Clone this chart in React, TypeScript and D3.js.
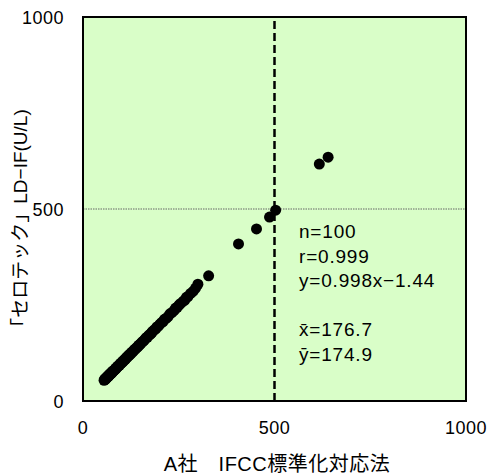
import React, { useEffect, useRef } from 'react'
import * as d3 from 'd3'

// A社 IFCC (x) vs セロテック LD-IF (y), U/L
const xVals = [
  55, 57, 58, 59, 60, 61, 62, 63, 64, 65,
  66, 67, 68, 69, 70, 71, 72, 74, 75, 76,
  77, 78, 80, 81, 83, 85, 86, 88, 90, 91,
  93, 95, 97, 99, 101, 103, 104, 106, 108, 110,
  112, 114, 116, 118, 120, 122, 125, 127, 130, 132,
  135, 137, 140, 143, 145, 148, 150, 153, 156, 159,
  162, 165, 168, 171, 174, 177, 180, 183, 186, 190,
  193, 197, 201, 205, 209, 213, 217, 222, 227, 232,
  238, 242, 246, 251, 255, 262, 266, 270, 274, 281,
  288, 294, 300, 328, 406, 453, 487, 503, 617, 640,
]
const yVals = [
  54, 57, 56, 59, 58, 61, 60, 62, 64, 63,
  66, 65, 67, 69, 68, 70, 72, 72, 75, 74,
  76, 78, 79, 80, 81, 85, 84, 87, 89, 91,
  92, 93, 97, 98, 99, 103, 102, 105, 108, 108,
  111, 114, 114, 118, 118, 122, 123, 127, 128, 131,
  135, 135, 139, 141, 145, 146, 149, 152, 155, 157,
  161, 165, 166, 170, 173, 175, 179, 182, 185, 188,
  193, 195, 200, 204, 207, 213, 215, 220, 227, 230,
  236, 242, 244, 250, 254, 260, 263, 270, 272, 280,
  286, 294, 304, 326, 409, 448, 479, 497, 617, 635,
]
const ticks = [0, 500, 1000]
const statLines = ['n=100', 'r=0.999', 'y=0.998x\u22121.44', '', 'x\u0304=176.7', 'y\u0304=174.9']
const xTitle = 'A社\u3000IFCC標準化対応法'
const yTitle = '「セロテック」LD\u2212IF(U/L)'

export default function App() {
  const ref = useRef<SVGSVGElement | null>(null)

  useEffect(() => {
    const width = 489
    const height = 476
    const margin = { top: 17, left: 83, right: 23, bottom: 75 }
    const font = '"Liberation Sans", Arial, "Noto Sans CJK JP", sans-serif'

    const svg = d3.select(ref.current).attr('width', width).attr('height', height)
    svg.selectAll('*').remove()

    const x = d3.scaleLinear().domain([0, 1000]).range([margin.left, width - margin.right])
    const y = d3.scaleLinear().domain([0, 1000]).range([height - margin.bottom, margin.top])

    // plot background
    svg.append('rect')
      .attr('x', x(0)).attr('y', y(1000))
      .attr('width', x(1000) - x(0)).attr('height', y(0) - y(1000))
      .attr('fill', '#d9fec8')

    // reference lines at 500
    svg.append('line')
      .attr('x1', x(0)).attr('x2', x(1000))
      .attr('y1', y(500)).attr('y2', y(500))
      .attr('stroke', '#666').attr('stroke-width', 1).attr('stroke-dasharray', '1.5,1')
    svg.append('line')
      .attr('x1', x(500)).attr('x2', x(500))
      .attr('y1', y(0)).attr('y2', y(1000))
      .attr('stroke', '#000').attr('stroke-width', 2.5).attr('stroke-dasharray', '8,4')

    // points
    const pts = xVals.map((v, i) => [v, yVals[i]])
    svg.append('g').selectAll('circle').data(pts).enter().append('circle')
      .attr('cx', d => x(d[0]))
      .attr('cy', d => y(d[1]))
      .attr('r', 5.5)
      .attr('fill', '#000')

    // frame
    svg.append('rect')
      .attr('x', x(0)).attr('y', y(1000))
      .attr('width', x(1000) - x(0)).attr('height', y(0) - y(1000))
      .attr('fill', 'none').attr('stroke', '#000').attr('stroke-width', 2)

    // axes (labels only)
    svg.append('g').selectAll('text').data(ticks).enter().append('text')
      .attr('x', d => x(d)).attr('y', y(0) + 33)
      .attr('text-anchor', 'middle')
      .attr('font-family', font).attr('font-size', 18).attr('letter-spacing', 0.5)
      .text(d => d)
    svg.append('g').selectAll('text').data(ticks).enter().append('text')
      .attr('x', x(0) - 19).attr('y', d => y(d) + 7)
      .attr('text-anchor', 'end')
      .attr('font-family', font).attr('font-size', 18).attr('letter-spacing', 0.5)
      .text(d => d)

    // titles
    svg.append('text')
      .attr('x', 277).attr('y', 471)
      .attr('text-anchor', 'middle')
      .attr('font-family', font).attr('font-size', 20).attr('letter-spacing', 0.5)
      .text(xTitle)
    svg.append('text')
      .attr('transform', 'translate(27,' + 223 + ') rotate(-90)')
      .attr('text-anchor', 'middle')
      .attr('font-family', font).attr('font-size', 19)
      .text(yTitle)

    // stats
    svg.append('g').selectAll('text').data(statLines).enter().append('text')
      .attr('x', 299).attr('y', (d, i) => 238 + i * 24.5)
      .attr('font-family', font).attr('font-size', 19).attr('letter-spacing', 0.8)
      .text(d => d)
  }, [])

  return <svg ref={ref} style={{ position: 'absolute', left: 0, top: 0 }}></svg>
}
